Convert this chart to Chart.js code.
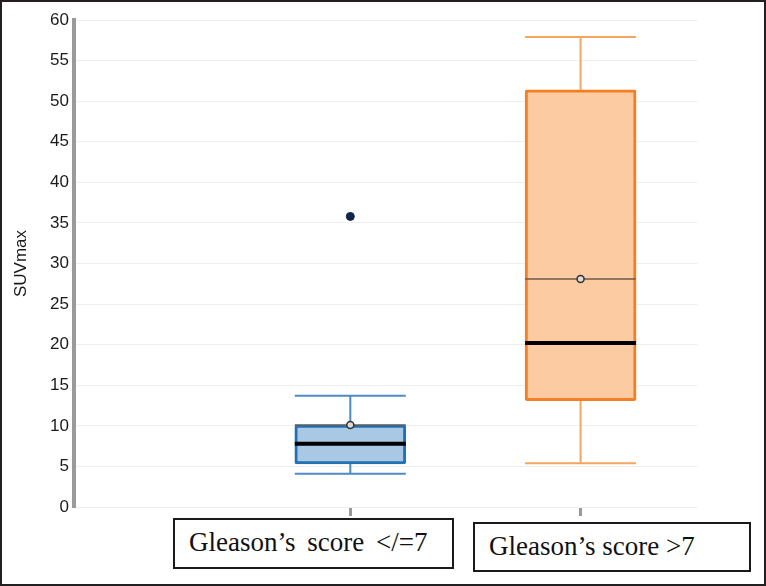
<!DOCTYPE html>
<html lang="en">
<head>
    <meta charset="UTF-8">
    <title>SUVmax by Gleason's score</title>
    <style>
        body {
            margin: 0;
            padding: 0;
            background-color: #ffffff;
        }

        .frame {
            position: relative;
            width: 766px;
            height: 586px;
            overflow: hidden;
        }

        .frame canvas {
            position: absolute;
            left: 0;
            top: 0;
        }

        .outline {
            position: absolute;
            left: 0;
            top: 0;
            width: 766px;
            height: 586px;
            border: 2px solid #231f20;
            box-sizing: border-box;
            pointer-events: none;
        }

        .cat-label {
            position: absolute;
            border: 2px solid #1a1a1a;
            box-sizing: border-box;
            background-color: #ffffff;
            font-family: "Liberation Serif", "Times New Roman", serif;
            font-size: 27px;
            color: #111;
            padding-left: 14px;
            white-space: nowrap;
        }
    </style>
    <script src="https://cdn.jsdelivr.net/npm/chart.js"></script>
</head>
<body>
    <div class="frame">
        <canvas id="boxChart" width="766" height="586"></canvas>
        <div id="catLabel0" class="cat-label" style="left:173px; top:518px; width:281px; height:51px; line-height:45px; word-spacing:5px;"></div>
        <div id="catLabel1" class="cat-label" style="left:473px; top:522px; width:278px; height:50px; line-height:45px;"></div>
        <div class="outline"></div>
    </div>

    <script>
        // data
        const categories = ['Gleason\u2019s score </=7', 'Gleason\u2019s score >7'];
        const whiskerLow = [4.1, 5.4];
        const quartile1 = [5.3, 13.1];
        const medians = [7.8, 20.2];
        const quartile3 = [10.1, 51.4];
        const whiskerHigh = [13.7, 57.9];
        const means = [10.1, 28.1];
        const outliers = [[35.8], []];
        const yTicks = [0, 5, 10, 15, 20, 25, 30, 35, 40, 45, 50, 55, 60];

        const boxFill = ['#a9c8e3', '#fccba1'];
        const boxEdge = ['#2470b3', '#f57e22'];
        const whiskerColor = ['#4d8cc3', '#f6a55e'];
        const meanLineColor = ['#5d5d5d', '#6e5a48'];

        categories.forEach(function (name, i) {
            document.getElementById('catLabel' + i).textContent = name;
        });

        const boxData = categories.map(function (c, i) {
            return { x: i + 1, y: [quartile1[i], quartile3[i]] };
        });
        const meanData = categories.map(function (c, i) {
            return { x: i + 1, y: means[i] };
        });
        const outlierData = [];
        outliers.forEach(function (list, i) {
            list.forEach(function (v) {
                outlierData.push({ x: i + 1, y: v });
            });
        });

        // whiskers, medians and mean lines drawn from the arrays through the scales
        const boxPlotLines = {
            id: 'boxPlotLines',
            beforeDatasetsDraw(chart) {
                const ctx = chart.ctx;
                const xs = chart.scales.x;
                const ys = chart.scales.y;
                const bars = chart.getDatasetMeta(0).data;
                ctx.save();
                categories.forEach(function (c, i) {
                    const cx = xs.getPixelForValue(i + 1);
                    const half = bars[i].width / 2;
                    ctx.strokeStyle = whiskerColor[i];
                    ctx.lineWidth = 2;
                    ctx.beginPath();
                    ctx.moveTo(cx, ys.getPixelForValue(quartile3[i]));
                    ctx.lineTo(cx, ys.getPixelForValue(whiskerHigh[i]));
                    ctx.moveTo(cx, ys.getPixelForValue(quartile1[i]));
                    ctx.lineTo(cx, ys.getPixelForValue(whiskerLow[i]));
                    ctx.moveTo(cx - half, ys.getPixelForValue(whiskerHigh[i]));
                    ctx.lineTo(cx + half, ys.getPixelForValue(whiskerHigh[i]));
                    ctx.moveTo(cx - half, ys.getPixelForValue(whiskerLow[i]));
                    ctx.lineTo(cx + half, ys.getPixelForValue(whiskerLow[i]));
                    ctx.stroke();
                });
                ctx.restore();
            },
            afterDatasetDraw(chart, args) {
                if (args.index !== 0) return;
                const ctx = chart.ctx;
                const xs = chart.scales.x;
                const ys = chart.scales.y;
                const bars = chart.getDatasetMeta(0).data;
                ctx.save();
                categories.forEach(function (c, i) {
                    const cx = xs.getPixelForValue(i + 1);
                    const half = bars[i].width / 2;
                    const ym = ys.getPixelForValue(means[i]);
                    ctx.strokeStyle = meanLineColor[i];
                    ctx.lineWidth = 1.5;
                    ctx.beginPath();
                    ctx.moveTo(cx - half, ym);
                    ctx.lineTo(cx + half, ym);
                    ctx.stroke();
                    const yMed = ys.getPixelForValue(medians[i]);
                    ctx.strokeStyle = '#000000';
                    ctx.lineWidth = 4;
                    ctx.beginPath();
                    ctx.moveTo(cx - half, yMed);
                    ctx.lineTo(cx + half, yMed);
                    ctx.stroke();
                });
                ctx.restore();
            }
        };

        const ctx = document.getElementById('boxChart').getContext('2d');
        new Chart(ctx, {
            type: 'bar',
            data: {
                datasets: [
                    {
                        type: 'bar',
                        data: boxData,
                        backgroundColor: boxFill,
                        borderColor: boxEdge,
                        borderWidth: 3,
                        borderRadius: 2,
                        borderSkipped: false,
                        barThickness: 111,
                        order: 3
                    },
                    {
                        type: 'scatter',
                        data: meanData,
                        pointRadius: 3.5,
                        pointBackgroundColor: '#d9d9d9',
                        pointBorderColor: '#333333',
                        pointBorderWidth: 1.5,
                        order: 1
                    },
                    {
                        type: 'scatter',
                        data: outlierData,
                        pointRadius: 4,
                        pointBackgroundColor: '#0d2747',
                        pointBorderColor: '#0d2747',
                        pointBorderWidth: 1,
                        order: 2
                    }
                ]
            },
            options: {
                responsive: false,
                animation: false,
                events: [],
                layout: {
                    padding: { left: 0, top: 20, right: 68, bottom: 0 }
                },
                plugins: {
                    legend: { display: false },
                    tooltip: { enabled: false }
                },
                scales: {
                    x: {
                        type: 'linear',
                        offset: false,
                        min: -0.2,
                        max: 2.51,
                        afterBuildTicks: function (scale) {
                            scale.ticks = categories.map(function (c, i) {
                                return { value: i + 1 };
                            });
                        },
                        afterFit: function (scale) {
                            scale.height = 79;
                        },
                        ticks: {
                            callback: function () { return ''; }
                        },
                        grid: {
                            offset: false,
                            drawOnChartArea: false,
                            drawTicks: true,
                            tickLength: 9,
                            color: '#9a9a9a',
                            lineWidth: 3
                        },
                        border: { display: false }
                    },
                    y: {
                        min: 0,
                        max: 60,
                        afterBuildTicks: function (scale) {
                            scale.ticks = yTicks.map(function (v) {
                                return { value: v };
                            });
                        },
                        afterFit: function (scale) {
                            scale.width = 74;
                        },
                        ticks: {
                            padding: 5,
                            color: '#1a1a1a',
                            font: { family: 'Liberation Sans, Arial, sans-serif', size: 17 }
                        },
                        grid: {
                            drawTicks: false,
                            color: '#efefef',
                            lineWidth: 1
                        },
                        border: {
                            display: true,
                            color: '#9a9a9a',
                            width: 4
                        },
                        title: {
                            display: true,
                            text: 'SUVmax',
                            color: '#1a1a1a',
                            padding: { top: 11, bottom: 0 },
                            font: { family: 'Liberation Sans, Arial, sans-serif', size: 17 }
                        }
                    }
                }
            },
            plugins: [boxPlotLines]
        });
    </script>
</body>
</html>
